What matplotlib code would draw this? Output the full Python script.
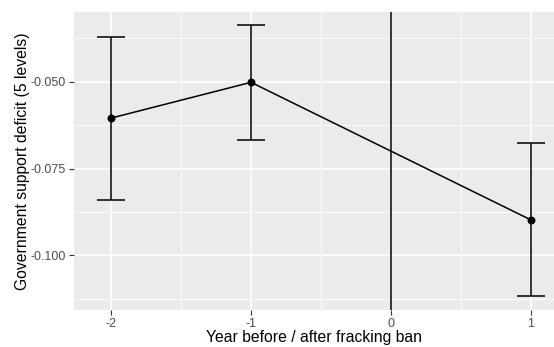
import matplotlib
matplotlib.use("Agg")
import matplotlib.pyplot as plt
import numpy as np

## Event-study estimates around the fracking ban
years = [-2, -1, 1]
estimate = [-0.0605, -0.0502, -0.0898]
ci_low = [-0.0841, -0.0668, -0.1117]
ci_high = [-0.0371, -0.0336, -0.0677]

xticks = [-2, -1, 0, 1]
yticks = [-0.050, -0.075, -0.100]
ytick_labels = ["-0.050", "-0.075", "-0.100"]

plt.rcParams["font.family"] = ["Liberation Sans", "DejaVu Sans"]

fig = plt.figure(figsize=(5.54, 3.47), dpi=100)
ax = fig.add_axes([74 / 554, 37 / 347, 480 / 554, 298 / 347])
ax.set_facecolor("#EBEBEB")

ax.set_xlim(-2.264, 1.164)
ax.set_ylim(-0.1157, -0.02997)

## grid like ggplot: minor lines thinner than major
for x in [-1.5, -0.5, 0.5]:
    ax.axvline(x, color="white", lw=0.6, zorder=0)
for y in [-0.0375, -0.0625, -0.0875, -0.1125]:
    ax.axhline(y, color="white", lw=0.6, zorder=0)
for x in xticks:
    ax.axvline(x, color="white", lw=1.2, zorder=0)
for y in yticks:
    ax.axhline(y, color="white", lw=1.2, zorder=0)

yr = np.array(years)
est = np.array(estimate)
lo = np.array(ci_low)
hi = np.array(ci_high)

ax.axvline(0, color="black", lw=1.1, zorder=2)
ax.vlines(yr, lo, hi, color="black", lw=1.1, zorder=3)
# caps 0.2 wide in data units
ax.hlines(lo, yr - 0.1, yr + 0.1, color="black", lw=1.1, zorder=3)
ax.hlines(hi, yr - 0.1, yr + 0.1, color="black", lw=1.1, zorder=3)
ax.plot(yr, est, color="black", lw=1.1, zorder=4)
ax.scatter(yr, est, color="black", s=22, zorder=5)

ax.set_xticks(xticks)
ax.set_xticklabels([str(x) for x in xticks])
ax.set_yticks(yticks)
ax.set_yticklabels(ytick_labels)
ax.tick_params(axis="both", colors="#333333", labelcolor="#4D4D4D",
               labelsize=9, length=3.5, width=0.8, pad=2.5)

for s in ax.spines.values():
    s.set_visible(False)

ax.set_xlabel("Year before / after fracking ban", fontsize=11.3, color="black", labelpad=0)
ax.set_ylabel("Government support deficit (5 levels)", fontsize=11.3, color="black", labelpad=0.5)

fig.savefig("out.png", dpi=100)
